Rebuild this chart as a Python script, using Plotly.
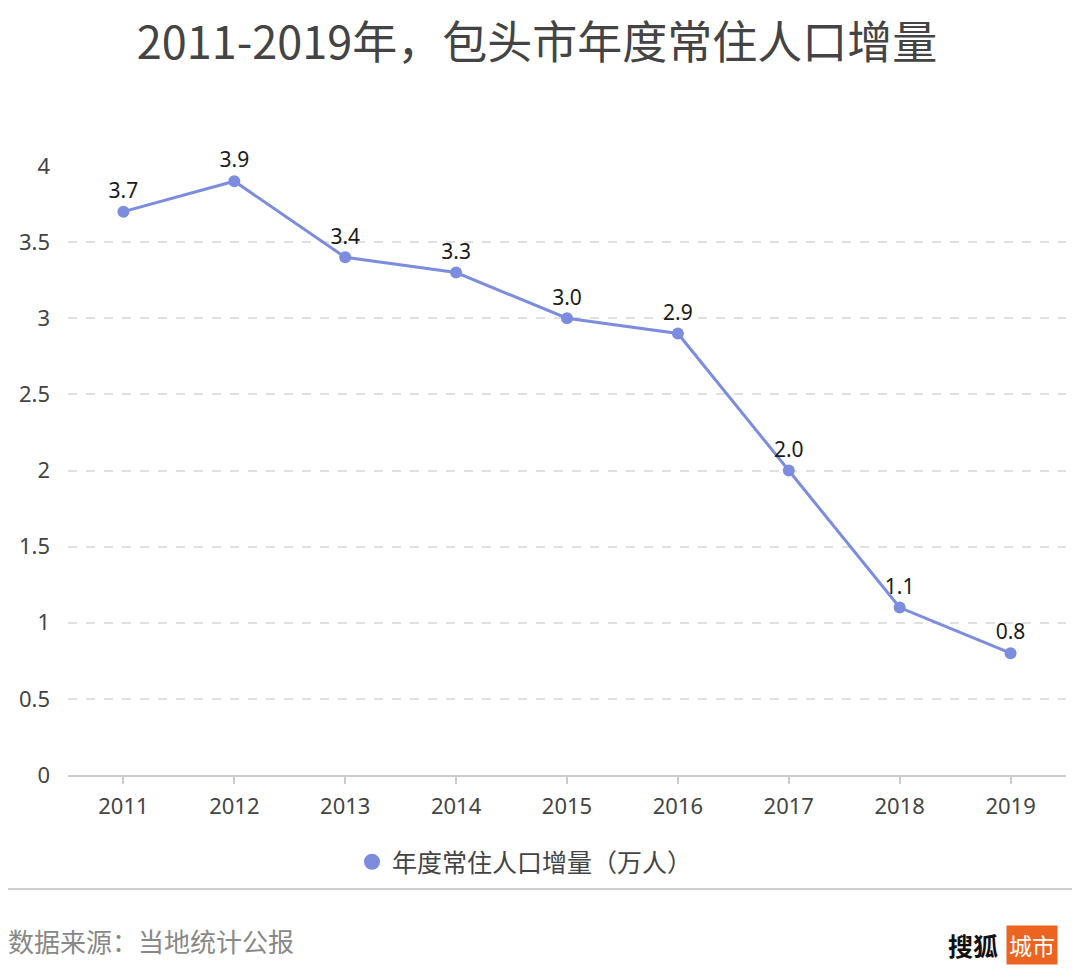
import plotly.graph_objects as go

years = ["2011", "2012", "2013", "2014", "2015", "2016", "2017", "2018", "2019"]
values = [3.7, 3.9, 3.4, 3.3, 3.0, 2.9, 2.0, 1.1, 0.8]
labels = ["3.7", "3.9", "3.4", "3.3", "3.0", "2.9", "2.0", "1.1", "0.8"]
y_ticks = [0, 0.5, 1, 1.5, 2, 2.5, 3, 3.5, 4]
y_tick_text = ["0", "0.5", "1", "1.5", "2", "2.5", "3", "3.5", "4"]
series_name = "年度常住人口增量（万人）"
title_text = "2011-2019年，包头市年度常住人口增量"
source_text = "数据来源：当地统计公报"

CJK = "Noto Sans CJK SC"
NUM = "Noto Sans"
LINE_COLOR = "#7C8DE0"

# page body has an 8px margin; reference pixel coords are shifted by it
OFF = 8
W, H = 1080, 976
# reference plot box: x 68..1066, y 166..775
L = 68 - OFF
R = W - (1066 - OFF)
T = 166 - OFF
B = H - (775 - OFF)
ph = H - T - B
pw = W - L - R

def py(pix):
    return (H - B - (pix - OFF)) / ph

def px(pix):
    return ((pix - OFF) - L) / pw

fig = go.Figure()
fig.add_trace(go.Scatter(
    x=years, y=values, mode="lines+markers+text",
    text=labels, textposition="top center",
    textfont=dict(size=21, color="#1a1a1a", family=NUM),
    line=dict(color=LINE_COLOR, width=3),
    marker=dict(size=12, color=LINE_COLOR),
    showlegend=False, cliponaxis=False,
))
fig.add_trace(go.Scatter(
    x=[None], y=[None], mode="markers", name=series_name,
    marker=dict(size=22, color=LINE_COLOR), showlegend=True,
))

fig.update_layout(
    width=W, height=H, autosize=False,
    margin=dict(l=L, r=R, t=T, b=B, autoexpand=False),
    paper_bgcolor="white", plot_bgcolor="white",
    font=dict(family=CJK, color="#444"),
    title=dict(text=title_text, x=(537 - OFF) / W, xref="container", xanchor="center",
               y=1 - (43 - OFF) / H, yref="container", yanchor="middle",
               font=dict(size=45, color="#444", family=CJK, weight="normal")),
    xaxis=dict(
        type="category", range=[-0.5, 8.5], tickangle=0, automargin=False,
        showline=True, linecolor="#cccccc", linewidth=2,
        ticks="outside", ticklen=7, tickcolor="#cccccc", tickwidth=2,
        tickfont=dict(size=22, color="#444", family=NUM), ticklabelstandoff=4,
        showgrid=False, zeroline=False,
    ),
    yaxis=dict(
        range=[0, 4], tickvals=y_ticks, ticktext=y_tick_text, automargin=False,
        tickfont=dict(size=22, color="#444", family=NUM),
        showgrid=True, gridcolor="#e0e0e0", griddash="dash", gridwidth=1.5,
        zeroline=False, showline=False, ticks="", ticklabelstandoff=17,
    ),
    legend=dict(orientation="h", x=px(525), xanchor="center",
                y=py(862), yanchor="middle",
                font=dict(size=25, color="#444", family=CJK)),
    shapes=[dict(type="line", xref="paper", yref="paper",
                 x0=px(7), x1=px(1073), y0=py(889), y1=py(889),
                 line=dict(color="#d0d0d0", width=2))],
    annotations=[
        dict(text=source_text, xref="paper", yref="paper",
             x=px(6), y=py(941), xanchor="left", yanchor="middle",
             showarrow=False, font=dict(size=26, color="#888", family=CJK)),
        dict(text="<b>搜狐</b>", xref="paper", yref="paper",
             x=px(1000), y=py(945), xanchor="right", yanchor="middle",
             showarrow=False, font=dict(size=25, color="#111", family=CJK)),
        dict(text="城市", xref="paper", yref="paper",
             x=px(1032), y=py(945), xanchor="center", yanchor="middle",
             showarrow=False, bgcolor="#EB6420", borderpad=2,
             font=dict(size=23, color="white", family=CJK)),
    ],
)

fig.write_html("out.html")
